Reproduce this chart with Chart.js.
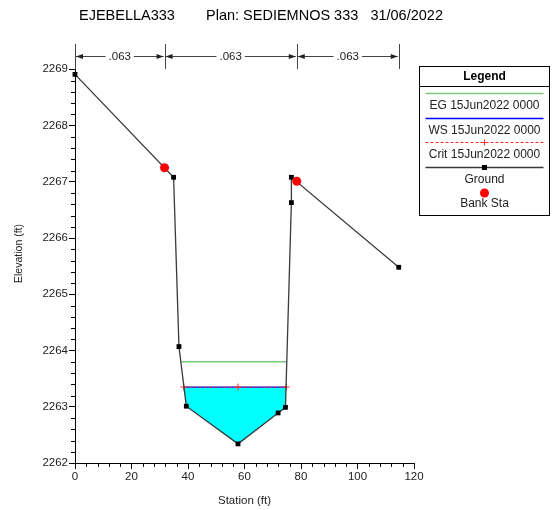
<!DOCTYPE html>
<html>
<head>
<meta charset="utf-8">
<script src="https://cdn.jsdelivr.net/npm/chart.js@4.4.0/dist/chart.umd.min.js"></script>
<style>
  body { margin: 0; background: #fff; }
  #wrap { width: 552px; height: 510px; position: relative; }
</style>
</head>
<body>
<div id="wrap"><canvas id="secao"></canvas></div>
<script>
// dados da secao transversal
const estacaoTerreno = [0, 34.9, 36.8, 39.4, 57.7, 71.9, 74.5, 76.6, 76.6, 114.6];
const cotaTerreno = [2268.91, 2267.08, 2264.07, 2263.01, 2262.34, 2262.89, 2262.99, 2266.63, 2267.08, 2265.48];

const estacaoMargem = [31.7, 78.5];
const cotaMargem = [2267.25, 2267.01];

const estacaoWS = [38.5, 74.8];
const cotaWS = [2263.35, 2263.35];

const estacaoCrit = [38.5, 57.7, 74.8];
const cotaCrit = [2263.35, 2263.35, 2263.35];

const estacaoEG = [37.7, 75.0];
const cotaEG = [2263.80, 2263.80];

// contorno da area molhada
const estacaoAgua = [38.5, 39.4, 57.7, 71.9, 74.5, 74.8, 38.5];
const cotaAgua = [2263.35, 2263.01, 2262.34, 2262.89, 2262.99, 2263.35, 2263.35];

// rugosidade de Manning
const estacoesN = [0, 31.7, 78.5, 114.6];
const valoresN = ['.063', '.063', '.063'];

const ticksEstacao = [0, 20, 40, 60, 80, 100, 120];
const ticksCota = [2262, 2263, 2264, 2265, 2266, 2267, 2268, 2269];

const pontos = (xs, ys) => xs.map((x, i) => ({ x: x, y: ys[i] }));

Chart.defaults.font.family = "'Liberation Sans', Arial, sans-serif";
Chart.defaults.color = '#222';

const desenhoExtra = {
    id: 'desenhoExtra',
    afterDraw(chart) {
        const ctx = chart.ctx;
        const sx = chart.scales.x;
        const sy = chart.scales.y;
        const area = chart.chartArea;
        ctx.save();

        // titulo
        ctx.fillStyle = '#000';
        ctx.font = "14.5px 'Liberation Sans', Arial";
        ctx.textBaseline = 'middle';
        ctx.textAlign = 'left';
        ctx.fillText('EJEBELLA333', 79, 16);
        ctx.fillText('Plan: SEDIEMNOS 333   31/06/2022', 206, 16);

        // ticks menores
        ctx.strokeStyle = '#000';
        ctx.lineWidth = 1;
        ctx.beginPath();
        for (let i = 0; i <= 35; i++) {
            if (i % 5 === 0) continue;
            const py = Math.round(sy.getPixelForValue(2262 + i * 0.2)) + 0.5;
            ctx.moveTo(area.left - 4, py);
            ctx.lineTo(area.left, py);
        }
        for (let i = 0; i <= 30; i++) {
            if (i % 5 === 0) continue;
            const px = Math.round(sx.getPixelForValue(i * 4)) + 0.5;
            ctx.moveTo(px, area.bottom);
            ctx.lineTo(px, area.bottom + 4);
        }
        ctx.stroke();

        // valores de n
        const yLinha = 56.5;
        ctx.strokeStyle = '#444';
        ctx.fillStyle = '#222';
        ctx.font = "11.5px 'Liberation Sans', Arial";
        ctx.textAlign = 'center';
        ctx.beginPath();
        estacoesN.forEach((e) => {
            const px = Math.round(sx.getPixelForValue(e)) + 0.5;
            ctx.moveTo(px, 44);
            ctx.lineTo(px, 69);
        });
        ctx.stroke();
        for (let i = 0; i < valoresN.length; i++) {
            const x1 = sx.getPixelForValue(estacoesN[i]);
            const x2 = sx.getPixelForValue(estacoesN[i + 1]);
            const meio = (x1 + x2) / 2;
            const w = ctx.measureText(valoresN[i]).width;
            ctx.fillStyle = '#222';
            ctx.fillText(valoresN[i], meio, yLinha);
            ctx.beginPath();
            ctx.moveTo(x1 + 1, yLinha);
            ctx.lineTo(meio - w / 2 - 3, yLinha);
            ctx.moveTo(meio + w / 2 + 3, yLinha);
            ctx.lineTo(x2 - 1, yLinha);
            ctx.stroke();
            ctx.beginPath();
            ctx.moveTo(x1 + 1, yLinha);
            ctx.lineTo(x1 + 8, yLinha - 2.5);
            ctx.lineTo(x1 + 8, yLinha + 2.5);
            ctx.closePath();
            ctx.moveTo(x2 - 1, yLinha);
            ctx.lineTo(x2 - 8, yLinha - 2.5);
            ctx.lineTo(x2 - 8, yLinha + 2.5);
            ctx.closePath();
            ctx.fill();
        }

        // legenda
        const lx = 419.5, lw = 130, cx = lx + lw / 2;
        ctx.strokeStyle = '#000';
        ctx.lineWidth = 1;
        ctx.strokeRect(lx, 66.5, lw, 149);
        ctx.beginPath();
        ctx.moveTo(lx, 86.5);
        ctx.lineTo(lx + lw, 86.5);
        ctx.stroke();
        ctx.fillStyle = '#000';
        ctx.font = "bold 12px 'Liberation Sans', Arial";
        ctx.fillText('Legend', cx, 76.5);

        const ds = chart.data.datasets;
        const itens = [ds[4], ds[3], ds[2], ds[1], ds[0]];
        const yAmostra = [93.5, 118.5, 142.5, 167.5, 193];
        const yTexto = [106, 131, 155, 179.5, 204];
        ctx.font = "12px 'Liberation Sans', Arial";
        itens.forEach((d, i) => {
            const ya = yAmostra[i];
            if (d.showLine) {
                ctx.strokeStyle = d.borderColor;
                ctx.lineWidth = d.borderWidth;
                ctx.setLineDash(d.borderDash || []);
                ctx.beginPath();
                ctx.moveTo(lx + 6, ya);
                ctx.lineTo(lx + lw - 6, ya);
                ctx.stroke();
                ctx.setLineDash([]);
                ctx.lineWidth = 1;
            }
            if (d.pointStyle === 'rect') {
                ctx.fillStyle = '#000';
                ctx.fillRect(cx - 2.5, ya - 2.5, 5, 5);
            } else if (d.pointStyle === 'cross') {
                ctx.strokeStyle = d.pointBorderColor;
                ctx.beginPath();
                ctx.moveTo(cx - 3, ya);
                ctx.lineTo(cx + 3, ya);
                ctx.moveTo(cx, ya - 3);
                ctx.lineTo(cx, ya + 3);
                ctx.stroke();
            } else if (d.pointStyle === 'circle') {
                ctx.fillStyle = d.pointBackgroundColor;
                ctx.beginPath();
                ctx.arc(cx, ya, 4.5, 0, Math.PI * 2);
                ctx.fill();
            }
            ctx.fillStyle = '#222';
            ctx.fillText(d.label, cx, yTexto[i]);
        });

        ctx.restore();
    }
};

new Chart(document.getElementById('secao'), {
    type: 'scatter',
    data: {
        datasets: [
            {
                label: 'Bank Sta',
                data: pontos(estacaoMargem, cotaMargem),
                showLine: false,
                pointStyle: 'circle',
                pointRadius: 4.5,
                pointBackgroundColor: '#ff0000',
                pointBorderColor: '#ff0000',
                pointBorderWidth: 0,
                order: 0,
                clip: false
            },
            {
                label: 'Ground',
                data: pontos(estacaoTerreno, cotaTerreno),
                showLine: true,
                borderColor: '#3a3a3a',
                borderWidth: 1.3,
                pointStyle: 'rect',
                pointRadius: 3.4,
                pointBackgroundColor: '#000',
                pointBorderColor: '#000',
                pointBorderWidth: 0,
                order: 1,
                clip: false
            },
            {
                label: 'Crit 15Jun2022 0000',
                data: pontos(estacaoCrit, cotaCrit),
                showLine: true,
                borderColor: '#ff3030',
                borderWidth: 1,
                borderDash: [3, 2],
                pointStyle: 'cross',
                pointRadius: 3.5,
                pointBorderColor: '#ff3030',
                pointBorderWidth: 1,
                order: 2
            },
            {
                label: 'WS 15Jun2022 0000',
                data: pontos(estacaoWS, cotaWS),
                showLine: true,
                borderColor: '#0000ff',
                borderWidth: 1.3,
                pointRadius: 0,
                order: 3
            },
            {
                label: 'EG 15Jun2022 0000',
                data: pontos(estacaoEG, cotaEG),
                showLine: true,
                borderColor: '#7ec87e',
                borderWidth: 1.5,
                pointRadius: 0,
                order: 4
            },
            {
                label: 'agua',
                data: pontos(estacaoAgua, cotaAgua),
                showLine: true,
                borderWidth: 0,
                borderColor: 'rgba(0,0,0,0)',
                backgroundColor: '#00ffff',
                fill: 'shape',
                pointRadius: 0,
                order: 5
            }
        ]
    },
    options: {
        responsive: true,
        maintainAspectRatio: false,
        animation: false,
        layout: {
            padding: { top: 44, right: 138, left: 0, bottom: 0 }
        },
        plugins: {
            legend: { display: false },
            tooltip: { enabled: false }
        },
        scales: {
            x: {
                type: 'linear',
                min: 0,
                max: 120,
                afterBuildTicks: (eixo) => { eixo.ticks = ticksEstacao.map(v => ({ value: v })); },
                afterFit: (eixo) => { eixo.height = 47; },
                ticks: { font: { size: 11.5 }, padding: 1, maxRotation: 0, callback: (v) => String(v) },
                grid: { drawOnChartArea: false, tickLength: 6, color: '#000' },
                border: { color: '#000' },
                title: { display: true, text: 'Station (ft)', font: { size: 11.5 }, padding: { top: 4, bottom: 2 } }
            },
            y: {
                type: 'linear',
                min: 2262,
                max: 2269.45,
                afterBuildTicks: (eixo) => { eixo.ticks = ticksCota.map(v => ({ value: v })); },
                afterFit: (eixo) => { eixo.width = 75; },
                ticks: { font: { size: 11.5 }, padding: 1, callback: (v) => String(v) },
                grid: { drawOnChartArea: false, tickLength: 6, color: '#000' },
                border: { color: '#000' },
                title: { display: true, text: 'Elevation (ft)', font: { size: 10.5 }, padding: { top: 13, bottom: 0 } }
            }
        }
    },
    plugins: [desenhoExtra]
});
</script>
</body>
</html>
